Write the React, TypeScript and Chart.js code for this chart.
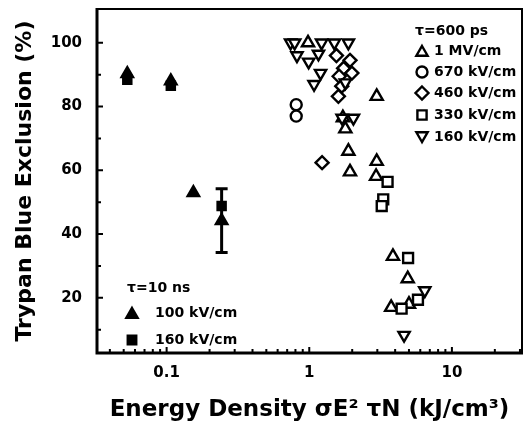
import React, { useEffect, useRef } from "react";
import { Chart, registerables } from "chart.js";

Chart.register(...registerables);

// ---- axis ticks ----
const xLabelTicks = [0.1, 1, 10];
const xMinorTicks = [0.04, 0.05, 0.06, 0.07, 0.08, 0.09, 0.2, 0.3, 0.4, 0.5, 0.6, 0.7, 0.8, 0.9, 2, 3, 4, 5, 6, 7, 8, 9, 20, 30];
const yLabelTicks = [20, 40, 60, 80, 100];
const yMinorTicks = [10, 30, 50, 70, 90];

// ---- tau = 10 ns (filled symbols) ----
const ns100X = [0.053, 0.107, 0.154, 0.243];
const ns100Y = [90.3, 88, 53, 44.2];
const ns100Err = [0, 0, 0, 10];
const ns160X = [0.053, 0.107, 0.243];
const ns160Y = [88.4, 86.5, 48.8];

// ---- tau = 600 ps (open symbols) ----
const mv1X = [0.98, 2.97, 1.72, 1.79, 1.88, 2.97, 1.93, 2.94, 3.86, 4.9, 3.75, 5.0];
const mv1Y = [100, 83.2, 76.5, 73.0, 66.0, 62.8, 59.5, 58.1, 33, 26, 17, 18];
const kv670X = [0.81, 0.81];
const kv670Y = [80.6, 77];
const kv460X = [1.55, 1.93, 1.74, 1.99, 1.62, 1.69, 1.6, 1.23];
const kv460Y = [96, 94.5, 92, 90.5, 89.5, 86.4, 83.2, 62.4];
const kv330X = [3.54, 3.3, 3.22, 4.93, 5.78, 4.44];
const kv330Y = [56.4, 50.9, 48.8, 32.5, 19.4, 16.6];
const kv160X = [0.74, 0.79, 1.22, 1.5, 1.88, 0.82, 1.16, 0.99, 1.2, 1.08, 1.79, 1.7, 2.04, 6.45, 4.62];
const kv160Y = [100, 100, 100, 100, 100, 96, 96.5, 94, 90.5, 87, 87.5, 76.4, 76.4, 22.3, 8.3];

// ---- legend text ----
const legendPsTitle = "τ=600 ps";
const legendPsLabels = ["1 MV/cm", "670 kV/cm", "460 kV/cm", "330 kV/cm", "160 kV/cm"];
const legendNsTitle = "τ=10 ns";
const legendNsLabels = ["100 kV/cm", "160 kV/cm"];

const xTitle = "Energy Density σE² τN (kJ/cm³)";
const yTitle = "Trypan Blue Exclusion (%)";

const FONT = "DejaVu Sans";

const pts = (xs: number[], ys: number[]) => xs.map((x, i) => ({ x, y: ys[i] }));

function marker(ctx: CanvasRenderingContext2D, style: string, x: number, y: number, r: number, filled: boolean) {
  ctx.save();
  ctx.beginPath();
  if (style === "triangle" || style === "triangleDown") {
    const rot = style === "triangleDown" ? Math.PI : 0;
    for (let i = 0; i < 3; i++) {
      const a = rot + (i * 2 * Math.PI) / 3;
      const px = x + Math.sin(a) * r;
      const py = y - Math.cos(a) * r;
      if (i === 0) ctx.moveTo(px, py);
      else ctx.lineTo(px, py);
    }
  } else if (style === "circle") {
    ctx.arc(x, y, r, 0, Math.PI * 2);
  } else if (style === "rect") {
    const s = r * Math.SQRT1_2;
    ctx.rect(x - s, y - s, 2 * s, 2 * s);
  } else {
    ctx.moveTo(x, y - r);
    ctx.lineTo(x + r, y);
    ctx.lineTo(x, y + r);
    ctx.lineTo(x - r, y);
  }
  ctx.closePath();
  ctx.fillStyle = filled ? "#000" : "#fff";
  ctx.fill();
  ctx.lineWidth = 2.4;
  ctx.strokeStyle = "#000";
  ctx.stroke();
  ctx.restore();
}

const decorPlugin = {
  id: "decor",
  beforeDatasetsDraw(chart: any) {
    const ctx: CanvasRenderingContext2D = chart.ctx;
    const xs = chart.scales.x;
    const ys = chart.scales.y;
    ctx.save();
    ctx.strokeStyle = "#000";
    ctx.lineWidth = 3;
    ns100X.forEach((xv, i) => {
      const e = ns100Err[i];
      if (!e) return;
      const px = xs.getPixelForValue(xv);
      const top = ys.getPixelForValue(ns100Y[i] + e);
      const bot = ys.getPixelForValue(ns100Y[i] - e);
      ctx.beginPath();
      ctx.moveTo(px, top);
      ctx.lineTo(px, bot);
      ctx.moveTo(px - 6, top);
      ctx.lineTo(px + 6, top);
      ctx.moveTo(px - 6, bot);
      ctx.lineTo(px + 6, bot);
      ctx.stroke();
    });
    ctx.restore();
  },
  afterDatasetsDraw(chart: any) {
    const ctx: CanvasRenderingContext2D = chart.ctx;
    const { left, right, top, bottom } = chart.chartArea;
    const xs = chart.scales.x;
    const ys = chart.scales.y;
    ctx.save();
    ctx.strokeStyle = "#000";
    // frame
    ctx.lineWidth = 2;
    ctx.beginPath();
    ctx.moveTo(left, top);
    ctx.lineTo(right, top);
    ctx.lineTo(right, bottom);
    ctx.stroke();
    ctx.lineWidth = 3;
    ctx.beginPath();
    ctx.moveTo(left, top - 1);
    ctx.lineTo(left, bottom);
    ctx.lineTo(right + 1, bottom);
    ctx.stroke();
    // inward ticks
    ctx.lineWidth = 2;
    ctx.beginPath();
    yLabelTicks.forEach((v) => {
      const py = ys.getPixelForValue(v);
      ctx.moveTo(left, py);
      ctx.lineTo(left + 6, py);
    });
    yMinorTicks.forEach((v) => {
      const py = ys.getPixelForValue(v);
      ctx.moveTo(left, py);
      ctx.lineTo(left + 4, py);
    });
    xLabelTicks.forEach((v) => {
      const px = xs.getPixelForValue(v);
      ctx.moveTo(px, bottom);
      ctx.lineTo(px, bottom - 6);
    });
    xMinorTicks.forEach((v) => {
      const px = xs.getPixelForValue(v);
      ctx.moveTo(px, bottom);
      ctx.lineTo(px, bottom - 4);
    });
    ctx.stroke();

    // legends
    ctx.fillStyle = "#000";
    ctx.font = `bold 14px "${FONT}"`;
    ctx.textBaseline = "middle";
    ctx.textAlign = "left";
    ctx.fillText(legendPsTitle, 415, 31);
    const psStyles = ["triangle", "circle", "rectRot", "rect", "triangleDown"];
    const psY = [51, 72, 93, 115, 137];
    legendPsLabels.forEach((t, i) => {
      marker(ctx, psStyles[i], 422, psY[i] + (psStyles[i] === "triangle" ? 1.5 : psStyles[i] === "triangleDown" ? -1.5 : 0), psStyles[i] === "circle" ? 5.5 : 6.5, false);
      ctx.fillStyle = "#000";
      ctx.fillText(t, 434, psY[i]);
    });
    ctx.fillText(legendNsTitle, 127, 288);
    const nsStyles = ["triangle", "rect"];
    const nsY = [313, 340];
    legendNsLabels.forEach((t, i) => {
      marker(ctx, nsStyles[i], 132, nsY[i] + (nsStyles[i] === "triangle" ? 1.5 : 0), nsStyles[i] === "triangle" ? 6.5 : 6, true);
      ctx.fillStyle = "#000";
      ctx.fillText(t, 155, nsY[i]);
    });
    ctx.restore();
  },
};

export default function App() {
  const ref = useRef<HTMLCanvasElement | null>(null);
  useEffect(() => {
    if (!ref.current) return;
    const open = (label: string, xs: number[], ys: number[], style: string, r: number, rot = 0) => ({
      label,
      data: pts(xs, ys),
      pointStyle: style,
      pointRadius: r,
      pointRotation: rot,
      backgroundColor: "#fff",
      borderColor: "#000",
      borderWidth: 2.4,
    });
    const filled = (label: string, xs: number[], ys: number[], style: string, r: number) => ({
      label,
      data: pts(xs, ys),
      pointStyle: style,
      pointRadius: r,
      backgroundColor: "#000",
      borderColor: "#000",
      borderWidth: 2,
    });
    const chart = new Chart(ref.current, {
      type: "scatter",
      data: {
        datasets: [
          filled("160 kV/cm, 10 ns", ns160X, ns160Y, "rect", 6),
          filled("100 kV/cm, 10 ns", ns100X, ns100Y, "triangle", 7),
          open("160 kV/cm", kv160X, kv160Y, "triangle", 6.5, 180),
          open("460 kV/cm", kv460X, kv460Y, "rectRot", 6.5),
          open("670 kV/cm", kv670X, kv670Y, "circle", 5.5),
          open("330 kV/cm", kv330X, kv330Y, "rect", 7),
          open("1 MV/cm", mv1X, mv1Y, "triangle", 7),
        ] as any,
      },
      options: {
        responsive: false,
        animation: false,
        layout: { autoPadding: false, padding: { top: 9, right: 2, left: 0, bottom: 0 } },
        plugins: { legend: { display: false }, tooltip: { enabled: false } },
        scales: {
          x: {
            type: "logarithmic",
            min: 0.0325,
            max: 31,
            grid: { display: false, drawTicks: false },
            border: { display: false },
            afterBuildTicks: (s: any) => {
              s.ticks = xLabelTicks.map((v) => ({ value: v }));
            },
            afterFit: (s: any) => {
              s.height = 71;
              s.paddingLeft = 0;
              s.paddingRight = 0;
            },
            ticks: {
              autoSkip: false,
              maxRotation: 0,
              padding: 11,
              color: "#000",
              font: { family: FONT, weight: "bold", size: 15 },
              callback: (v: any) => String(v),
            },
            title: {
              display: true,
              text: xTitle,
              color: "#000",
              font: { family: FONT, weight: "bold", size: 23 },
              padding: { top: 0, bottom: 0 },
            },
          },
          y: {
            type: "linear",
            min: 2.7,
            max: 110.6,
            grid: { display: false, drawTicks: false },
            border: { display: false },
            afterBuildTicks: (s: any) => {
              s.ticks = yLabelTicks.map((v) => ({ value: v }));
            },
            afterFit: (s: any) => {
              s.width = 97;
              s.paddingTop = 0;
              s.paddingBottom = 0;
            },
            ticks: {
              autoSkip: false,
              padding: 15,
              color: "#000",
              font: { family: FONT, weight: "bold", size: 15 },
              callback: (v: any) => String(v),
            },
            title: {
              display: true,
              text: yTitle,
              color: "#000",
              font: { family: FONT, weight: "bold", size: 22 },
              padding: { top: 12, bottom: 0 },
            },
          },
        },
      } as any,
      plugins: [decorPlugin],
    });
    return () => chart.destroy();
  }, []);
  return (
    <div style={{ position: "absolute", left: 0, top: 0, width: 524, height: 424, background: "#fff" }}>
      <canvas ref={ref} width={524} height={424} style={{ display: "block" }} />
    </div>
  );
}
